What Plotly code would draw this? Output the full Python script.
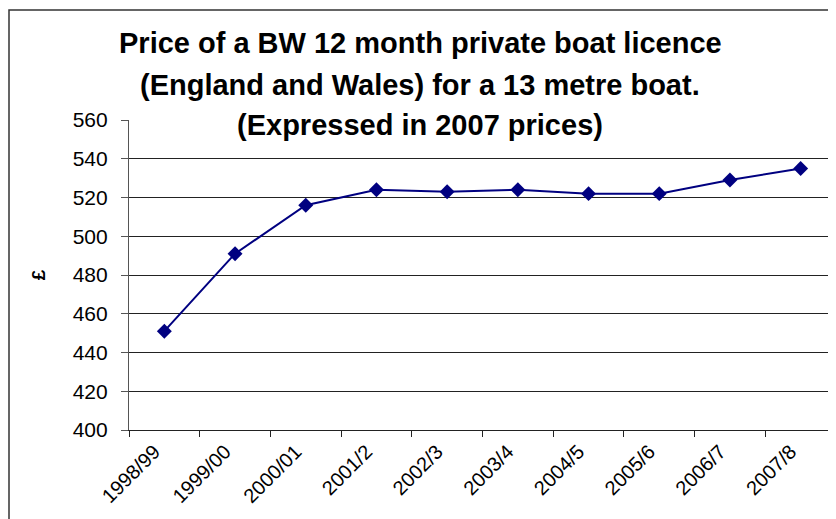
import plotly.graph_objects as go

years = ["1998/99", "1999/00", "2000/01", "2001/2", "2002/3", "2003/4",
         "2004/5", "2005/6", "2006/7", "2007/8"]
price = [451, 491, 516, 524, 523, 524, 522, 522, 529, 535]
y_ticks = [400, 420, 440, 460, 480, 500, 520, 540, 560]
title_lines = ["Price of a BW 12 month private boat licence",
               "(England and Wales) for a 13 metre boat.",
               "(Expressed in 2007 prices)"]
y_label = "£"

# the page body adds an 8px offset, so the figure is sized to fit the window
W, H = 828, 511
L, R, T, B = 121, 0, 112, 89

fig = go.Figure()
fig.add_trace(go.Scatter(
    x=years, y=price, mode="lines+markers",
    line=dict(color="#000080", width=2),
    marker=dict(symbol="diamond", size=11.5, color="#000080"),
    showlegend=False, cliponaxis=False,
))

font_family = "Liberation Sans, Arial, sans-serif"

fig.update_layout(
    width=W, height=H,
    margin=dict(l=L, r=R, t=T, b=B, pad=0),
    paper_bgcolor="white", plot_bgcolor="white",
    font=dict(family=font_family, color="black"),
    xaxis=dict(
        type="category", showgrid=False, showline=True, linecolor="#222",
        linewidth=1.2, ticks="outside", tickson="boundaries", ticklen=6,
        tickcolor="#222", tickangle=-45, tickfont=dict(size=20, color="black"),
        range=[-0.5, len(years) - 0.5], zeroline=False, automargin=False,
        ticklabelshift=-10, ticklabelstandoff=1,
    ),
    yaxis=dict(
        range=[y_ticks[0], y_ticks[-1]], tickvals=y_ticks, showgrid=True,
        gridcolor="#222", gridwidth=1.1,
        showline=True, linecolor="#555", linewidth=1.2, ticks="outside",
        ticklen=7, tickcolor="#555", tickfont=dict(size=21, color="black"),
        zeroline=False, automargin=False, ticklabelstandoff=9,
        title=dict(text="<b>" + y_label + "</b>", font=dict(size=19, color="black"),
                   standoff=22),
    ),
)

# hide the top (560) gridline, as in the original chart
fig.add_shape(type="line", xref="paper", yref="y", x0=0.003, x1=1,
              y0=y_ticks[-1], y1=y_ticks[-1],
              line=dict(color="white", width=3), layer="between")

title_y = [1.25, 1.1145, 0.984]
for txt, yy in zip(title_lines, title_y):
    fig.add_annotation(
        text="<b>" + txt + "</b>", xref="paper", yref="paper",
        x=(412 - L) / (W - L - R), y=yy, xanchor="center", yanchor="middle",
        showarrow=False,
        font=dict(size=29, color="black", family=font_family),
    )

fig.add_shape(type="rect", xref="paper", yref="paper",
              x0=(1 - L) / (W - L - R), x1=1.05, y0=-0.5,
              y1=(H - B - 2) / (H - T - B),
              line=dict(color="#333", width=1.5), fillcolor="rgba(0,0,0,0)",
              layer="below")

fig.write_html("out.html")
